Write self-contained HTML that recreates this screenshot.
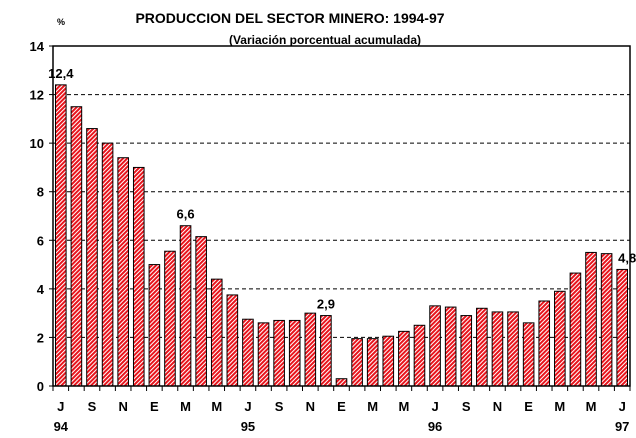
<!DOCTYPE html>
<html><head><meta charset="utf-8"><style>
body{margin:0;background:#fff}
svg{display:block;font-family:"Liberation Sans",Arial,sans-serif}
</style></head><body>
<svg id="chart" width="636" height="438" viewBox="0 0 636 438">
<defs><pattern id="hatch" patternUnits="userSpaceOnUse" width="3" height="3" patternTransform="rotate(45)">
<rect width="3" height="3" fill="#fff"/><rect width="2" height="3" fill="#e8141c"/></pattern></defs>
<text x="290" y="23" text-anchor="middle" font-size="14" font-weight="bold">PRODUCCION DEL SECTOR MINERO: 1994-97</text>
<text x="325" y="44" text-anchor="middle" font-size="12" font-weight="bold">(Variación porcentual acumulada)</text>
<text x="61" y="25" text-anchor="middle" font-size="9" font-weight="bold">%</text>
<g id="grid"></g><g id="bars"></g><g id="axes"></g>
</svg>
<script>
const values=[12.4,11.5,10.6,10.0,9.4,9.0,5.0,5.55,6.6,6.15,4.4,3.75,2.75,2.6,2.7,2.7,3.0,2.9,0.3,1.95,1.95,2.05,2.25,2.5,3.3,3.25,2.9,3.2,3.05,3.05,2.6,3.5,3.9,4.65,5.5,5.45,4.8];
const monthLabels=["J","S","N","E","M","M","J","S","N","E","M","M","J","S","N","E","M","M","J"];
const yearLabels=["94","95","96","97"];
const yTicks=[0,2,4,6,8,10,12,14];
const annotations=[[0,"12,4"],[8,"6,6"],[17,"2,9"],[36,"4,8"]];
const NS="http://www.w3.org/2000/svg";
const X0=53,X1=630,Y0=386,Y1=46,YMAX=14;
const slot=(X1-X0)/values.length;
const y=v=>Y0-(v/YMAX)*(Y0-Y1);
const x=i=>X0+i*slot;
function mk(tag,attrs,parent,text){const e=document.createElementNS(NS,tag);for(const k in attrs)e.setAttribute(k,attrs[k]);if(text!==undefined)e.textContent=text;parent.appendChild(e);return e;}
const grid=document.getElementById('grid'),bars=document.getElementById('bars'),axes=document.getElementById('axes');
yTicks.forEach(t=>{
  if(t>0&&t<YMAX){const l=mk('line',{x1:X0,x2:X1,y1:y(t),y2:y(t),stroke:'#000','stroke-dasharray':'4,3','stroke-width':1},grid);
  
  }
  const tk=mk('line',{x1:X0-4,x2:X0,y1:y(t),y2:y(t),stroke:'#000'},axes);
  
  
  const tx=mk('text',{x:X0-9,y:y(t)+5,'text-anchor':'end','font-size':13,'font-weight':'bold'},axes,String(t));
  
  
});
values.forEach((v,i)=>{
  const r=mk('rect',{x:x(i)+2.5,y:y(v),width:slot-5,height:Y0-y(v),fill:'url(#hatch)',stroke:'#000','stroke-width':1},bars);
  
  
});
const frame=mk('rect',{x:X0,y:Y1,width:X1-X0,height:Y0-Y1,fill:'none',stroke:'#000','stroke-width':1.5},axes);


for(let i=0;i<=values.length;i++){
  const t=mk('line',{x1:x(i),x2:x(i),y1:Y0,y2:Y0+5,stroke:'#000'},axes);
  
  
}
monthLabels.forEach((m,k)=>{
  const t=mk('text',{x:x(k*2)+slot/2,y:Y0+25,'text-anchor':'middle','font-size':13,'font-weight':'bold'},axes,m);
  
  
});
yearLabels.forEach((yr,k)=>{
  const t=mk('text',{x:x(k*12)+slot/2,y:Y0+45,'text-anchor':'middle','font-size':13,'font-weight':'bold'},axes,yr);
  
  
});
annotations.forEach(([i,s])=>{
  const t=mk('text',{x:x(i)+slot/2+(i===36?5:(i===17?0:0)),y:y(values[i])-7,'text-anchor':'middle','font-size':13,'font-weight':'bold'},axes,s);
  
  
});
</script>
</body></html>
